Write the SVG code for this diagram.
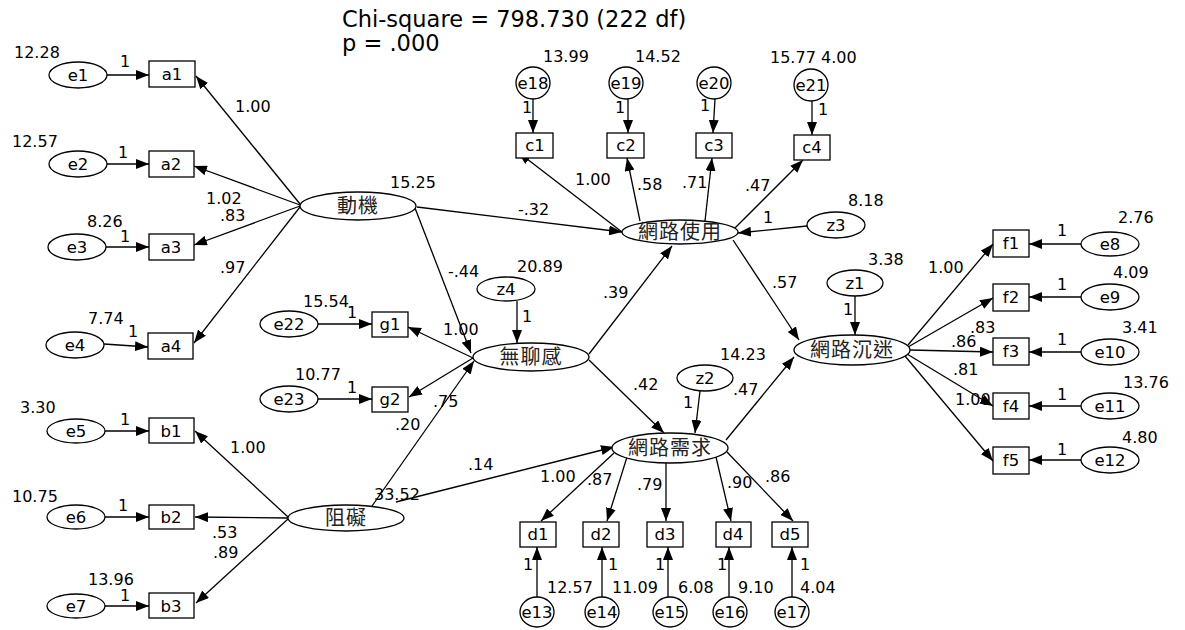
<svg xmlns="http://www.w3.org/2000/svg" width="1185" height="630" viewBox="0 0 1185 630">
<defs>
<marker id="ah" viewBox="0 0 13 10" refX="13" refY="5" markerWidth="13" markerHeight="10" markerUnits="userSpaceOnUse" orient="auto"><path d="M0,0 L13,5 L0,10 z" fill="#000"/></marker>
<style>
.sh{fill:#fff;stroke:#000;stroke-width:1.3}
.lb{font-family:"DejaVu Sans","Liberation Sans",sans-serif;font-size:16.5px;fill:#000;text-anchor:middle}
.n{font-family:"DejaVu Sans","Liberation Sans",sans-serif;font-size:16px;fill:#000}
.cj{font-family:"Noto Sans CJK TC","Noto Sans CJK SC",sans-serif;font-size:20px;letter-spacing:1px;fill:#222;text-anchor:middle}
.t{font-family:"DejaVu Sans","Liberation Sans",sans-serif;font-size:22.5px;fill:#000}
#conn line{stroke:#000;stroke-width:1.3;marker-end:url(#ah)}
</style>
</defs>
<rect width="1185" height="630" fill="#fff"/>
<text class="t" x="342" y="27">Chi-square = 798.730 (222 df)</text>
<text class="t" x="342" y="51">p = .000</text>

<g id="conn">
<line x1="107" y1="75" x2="149" y2="75"/>
<line x1="107" y1="164" x2="149" y2="164"/>
<line x1="106" y1="247" x2="149" y2="247"/>
<line x1="104" y1="344" x2="148" y2="347"/>
<line x1="105" y1="431" x2="149" y2="431"/>
<line x1="105" y1="517" x2="149" y2="517"/>
<line x1="105" y1="606" x2="149" y2="606"/>
<line x1="300" y1="204" x2="196" y2="76"/>
<line x1="300" y1="205" x2="194" y2="166"/>
<line x1="300" y1="206" x2="194" y2="245"/>
<line x1="300" y1="207" x2="194" y2="343"/>
<line x1="288" y1="517" x2="195" y2="431"/>
<line x1="288" y1="518" x2="195" y2="517"/>
<line x1="288" y1="519" x2="196" y2="603"/>
<line x1="318" y1="324" x2="372" y2="324"/>
<line x1="318" y1="399" x2="372" y2="399"/>
<line x1="473" y1="358" x2="408" y2="327"/>
<line x1="473" y1="358" x2="409" y2="397"/>
<line x1="517" y1="301" x2="517" y2="343"/>
<line x1="415" y1="208" x2="471" y2="353"/>
<line x1="417" y1="207" x2="622" y2="232"/>
<line x1="372" y1="506" x2="474" y2="361"/>
<line x1="396" y1="502" x2="614" y2="447"/>
<line x1="589" y1="354" x2="672" y2="246"/>
<line x1="589" y1="360" x2="664" y2="433"/>
<line x1="700" y1="391" x2="695" y2="433"/>
<line x1="726" y1="440" x2="794" y2="357"/>
<line x1="733" y1="240" x2="799" y2="340"/>
<line x1="807" y1="226" x2="738" y2="233"/>
<line x1="855" y1="296" x2="855" y2="335"/>
<line x1="622" y1="232" x2="518" y2="152"/>
<line x1="640" y1="221" x2="627" y2="158"/>
<line x1="705" y1="221" x2="712" y2="158"/>
<line x1="735" y1="228" x2="803" y2="160"/>
<line x1="533" y1="99" x2="533" y2="133"/>
<line x1="628" y1="99" x2="628" y2="133"/>
<line x1="715" y1="99" x2="713" y2="133"/>
<line x1="812" y1="101" x2="812" y2="135"/>
<line x1="614" y1="453" x2="541" y2="521"/>
<line x1="627" y1="457" x2="607" y2="521"/>
<line x1="666" y1="463" x2="666" y2="521"/>
<line x1="716" y1="457" x2="731" y2="521"/>
<line x1="727" y1="452" x2="793" y2="521"/>
<line x1="537" y1="597" x2="537" y2="547"/>
<line x1="602" y1="597" x2="602" y2="547"/>
<line x1="668" y1="597" x2="668" y2="547"/>
<line x1="729" y1="597" x2="729" y2="547"/>
<line x1="792" y1="597" x2="792" y2="547"/>
<line x1="908" y1="345" x2="993" y2="244"/>
<line x1="908" y1="347" x2="993" y2="298"/>
<line x1="910" y1="350" x2="993" y2="352"/>
<line x1="907" y1="354" x2="993" y2="406"/>
<line x1="905" y1="356" x2="993" y2="461"/>
<line x1="1081" y1="244" x2="1029" y2="244"/>
<line x1="1081" y1="297" x2="1029" y2="297"/>
<line x1="1081" y1="352" x2="1029" y2="352"/>
<line x1="1081" y1="406" x2="1029" y2="406"/>
<line x1="1081" y1="460" x2="1029" y2="460"/>
</g>

<g id="e1"><ellipse class="sh" cx="78" cy="75" rx="29" ry="13"/><text class="lb" x="78" y="81">e1</text></g>
<g id="e2"><ellipse class="sh" cx="78" cy="164" rx="29" ry="13"/><text class="lb" x="78" y="170">e2</text></g>
<g id="e3"><ellipse class="sh" cx="77" cy="247" rx="29" ry="13"/><text class="lb" x="77" y="253">e3</text></g>
<g id="e4"><ellipse class="sh" cx="75" cy="345" rx="29" ry="13"/><text class="lb" x="75" y="351">e4</text></g>
<g id="e5"><ellipse class="sh" cx="76" cy="431" rx="29" ry="12"/><text class="lb" x="76" y="437">e5</text></g>
<g id="e6"><ellipse class="sh" cx="76" cy="517" rx="29" ry="12"/><text class="lb" x="76" y="523">e6</text></g>
<g id="e7"><ellipse class="sh" cx="76" cy="606" rx="29" ry="12"/><text class="lb" x="76" y="612">e7</text></g>
<g id="e22"><ellipse class="sh" cx="289" cy="324" rx="29" ry="13"/><text class="lb" x="289" y="330">e22</text></g>
<g id="e23"><ellipse class="sh" cx="289" cy="399" rx="29" ry="13"/><text class="lb" x="289" y="405">e23</text></g>

<g id="a1"><rect class="sh" x="149" y="61" width="46" height="26"/><text class="lb" x="172" y="80">a1</text></g>
<g id="a2"><rect class="sh" x="149" y="151" width="45" height="26"/><text class="lb" x="171" y="170">a2</text></g>
<g id="a3"><rect class="sh" x="149" y="234" width="45" height="26"/><text class="lb" x="171" y="253">a3</text></g>
<g id="a4"><rect class="sh" x="148" y="333" width="45" height="26"/><text class="lb" x="171" y="352">a4</text></g>
<g id="b1"><rect class="sh" x="149" y="418" width="45" height="25"/><text class="lb" x="171" y="437">b1</text></g>
<g id="b2"><rect class="sh" x="149" y="505" width="45" height="24"/><text class="lb" x="171" y="523">b2</text></g>
<g id="b3"><rect class="sh" x="149" y="593" width="45" height="25"/><text class="lb" x="171" y="612">b3</text></g>
<g id="g1"><rect class="sh" x="372" y="312" width="36" height="25"/><text class="lb" x="390" y="330">g1</text></g>
<g id="g2"><rect class="sh" x="372" y="387" width="36" height="25"/><text class="lb" x="390" y="405">g2</text></g>

<g id="motive"><ellipse class="sh" cx="358" cy="206" rx="58" ry="14"/><text class="cj" x="358" y="213">動機</text></g>
<g id="barrier"><ellipse class="sh" cx="346" cy="518" rx="58" ry="13"/><text class="cj" x="346" y="525">阻礙</text></g>
<g id="boredom"><ellipse class="sh" cx="531" cy="357" rx="58" ry="14"/><text class="cj" x="531" y="364">無聊感</text></g>
<g id="netuse"><ellipse class="sh" cx="680" cy="232" rx="58" ry="12"/><text class="cj" x="680" y="239">網路使用</text></g>
<g id="netneed"><ellipse class="sh" cx="670" cy="448" rx="58" ry="15"/><text class="cj" x="670" y="455">網路需求</text></g>
<g id="netaddict"><ellipse class="sh" cx="852" cy="350" rx="58" ry="15"/><text class="cj" x="852" y="357">網路沉迷</text></g>

<g id="z4"><ellipse class="sh" cx="506" cy="289" rx="29" ry="12"/><text class="lb" x="506" y="295">z4</text></g>
<g id="z2"><ellipse class="sh" cx="705" cy="378" rx="28" ry="13"/><text class="lb" x="705" y="384">z2</text></g>
<g id="z3"><ellipse class="sh" cx="836" cy="225" rx="29" ry="13"/><text class="lb" x="836" y="231">z3</text></g>
<g id="z1"><ellipse class="sh" cx="855" cy="283" rx="28" ry="13"/><text class="lb" x="855" y="289">z1</text></g>

<g id="c1"><rect class="sh" x="516" y="133" width="37" height="25"/><text class="lb" x="535" y="151">c1</text></g>
<g id="c2"><rect class="sh" x="607" y="133" width="37" height="25"/><text class="lb" x="626" y="151">c2</text></g>
<g id="c3"><rect class="sh" x="696" y="133" width="36" height="25"/><text class="lb" x="714" y="151">c3</text></g>
<g id="c4"><rect class="sh" x="794" y="135" width="36" height="25"/><text class="lb" x="812" y="153">c4</text></g>
<g id="e18"><ellipse class="sh" cx="533" cy="83" rx="17" ry="16"/><text class="lb" x="533" y="89">e18</text></g>
<g id="e19"><ellipse class="sh" cx="626" cy="83" rx="17" ry="16"/><text class="lb" x="626" y="89">e19</text></g>
<g id="e20"><ellipse class="sh" cx="714" cy="83" rx="17" ry="16"/><text class="lb" x="714" y="89">e20</text></g>
<g id="e21"><ellipse class="sh" cx="811" cy="85" rx="17" ry="16"/><text class="lb" x="811" y="91">e21</text></g>

<g id="d1"><rect class="sh" x="520" y="522" width="36" height="25"/><text class="lb" x="538" y="540">d1</text></g>
<g id="d2"><rect class="sh" x="583" y="522" width="36" height="25"/><text class="lb" x="601" y="540">d2</text></g>
<g id="d3"><rect class="sh" x="647" y="522" width="36" height="25"/><text class="lb" x="665" y="540">d3</text></g>
<g id="d4"><rect class="sh" x="716" y="522" width="35" height="25"/><text class="lb" x="733" y="540">d4</text></g>
<g id="d5"><rect class="sh" x="772" y="522" width="36" height="25"/><text class="lb" x="790" y="540">d5</text></g>
<g id="e13"><ellipse class="sh" cx="537" cy="612" rx="17" ry="15"/><text class="lb" x="537" y="618">e13</text></g>
<g id="e14"><ellipse class="sh" cx="602" cy="612" rx="17" ry="15"/><text class="lb" x="602" y="618">e14</text></g>
<g id="e15"><ellipse class="sh" cx="670" cy="612" rx="17" ry="15"/><text class="lb" x="670" y="618">e15</text></g>
<g id="e16"><ellipse class="sh" cx="730" cy="612" rx="17" ry="15"/><text class="lb" x="730" y="618">e16</text></g>
<g id="e17"><ellipse class="sh" cx="792" cy="612" rx="17" ry="15"/><text class="lb" x="792" y="618">e17</text></g>

<g id="f1"><rect class="sh" x="993" y="230" width="36" height="27"/><text class="lb" x="1011" y="249">f1</text></g>
<g id="f2"><rect class="sh" x="993" y="284" width="36" height="27"/><text class="lb" x="1011" y="303">f2</text></g>
<g id="f3"><rect class="sh" x="993" y="338" width="36" height="27"/><text class="lb" x="1011" y="357">f3</text></g>
<g id="f4"><rect class="sh" x="993" y="393" width="36" height="26"/><text class="lb" x="1011" y="412">f4</text></g>
<g id="f5"><rect class="sh" x="993" y="447" width="36" height="27"/><text class="lb" x="1011" y="466">f5</text></g>
<g id="e8"><ellipse class="sh" cx="1110" cy="244" rx="29" ry="12"/><text class="lb" x="1110" y="250">e8</text></g>
<g id="e9"><ellipse class="sh" cx="1110" cy="297" rx="29" ry="13"/><text class="lb" x="1110" y="303">e9</text></g>
<g id="e10"><ellipse class="sh" cx="1110" cy="352" rx="29" ry="13"/><text class="lb" x="1110" y="358">e10</text></g>
<g id="e11"><ellipse class="sh" cx="1110" cy="406" rx="29" ry="13"/><text class="lb" x="1110" y="412">e11</text></g>
<g id="e12"><ellipse class="sh" cx="1110" cy="460" rx="29" ry="13"/><text class="lb" x="1110" y="466">e12</text></g>

<g id="labels">
<text class="n" x="14" y="58">12.28</text>
<text class="n" x="120" y="67">1</text>
<text class="n" x="235" y="112">1.00</text>
<text class="n" x="12" y="147">12.57</text>
<text class="n" x="118" y="158">1</text>
<text class="n" x="206" y="204">1.02</text>
<text class="n" x="220" y="221">.83</text>
<text class="n" x="87" y="227">8.26</text>
<text class="n" x="120" y="242">1</text>
<text class="n" x="220" y="273">.97</text>
<text class="n" x="88" y="324">7.74</text>
<text class="n" x="128" y="337">1</text>
<text class="n" x="303" y="307">15.54</text>
<text class="n" x="347" y="318">1</text>
<text class="n" x="295" y="380">10.77</text>
<text class="n" x="347" y="393">1</text>
<text class="n" x="20" y="413">3.30</text>
<text class="n" x="120" y="425">1</text>
<text class="n" x="230" y="453">1.00</text>
<text class="n" x="12" y="502">10.75</text>
<text class="n" x="118" y="511">1</text>
<text class="n" x="212" y="538">.53</text>
<text class="n" x="213" y="558">.89</text>
<text class="n" x="88" y="585">13.96</text>
<text class="n" x="120" y="601">1</text>
<text class="n" x="390" y="188">15.25</text>
<text class="n" x="518" y="215">-.32</text>
<text class="n" x="543" y="62">13.99</text>
<text class="n" x="635" y="62">14.52</text>
<text class="n" x="770" y="63">15.77</text>
<text class="n" x="821" y="63">4.00</text>
<text class="n" x="522" y="113">1</text>
<text class="n" x="615" y="113">1</text>
<text class="n" x="700" y="111">1</text>
<text class="n" x="818" y="115">1</text>
<text class="n" x="575" y="185">1.00</text>
<text class="n" x="637" y="190">.58</text>
<text class="n" x="682" y="188">.71</text>
<text class="n" x="745" y="191">.47</text>
<text class="n" x="848" y="206">8.18</text>
<text class="n" x="763" y="223">1</text>
<text class="n" x="1118" y="223">2.76</text>
<text class="n" x="1057" y="236">1</text>
<text class="n" x="868" y="265">3.38</text>
<text class="n" x="928" y="273">1.00</text>
<text class="n" x="772" y="288">.57</text>
<text class="n" x="843" y="315">1</text>
<text class="n" x="1113" y="278">4.09</text>
<text class="n" x="1057" y="290">1</text>
<text class="n" x="970" y="333">.83</text>
<text class="n" x="951" y="347">.86</text>
<text class="n" x="1122" y="333">3.41</text>
<text class="n" x="1057" y="345">1</text>
<text class="n" x="953" y="375">.81</text>
<text class="n" x="1123" y="388">13.76</text>
<text class="n" x="1057" y="400">1</text>
<text class="n" x="955" y="405">1.00</text>
<text class="n" x="1122" y="443">4.80</text>
<text class="n" x="1057" y="455">1</text>
<text class="n" x="720" y="360">14.23</text>
<text class="n" x="733" y="395">.47</text>
<text class="n" x="683" y="408">1</text>
<text class="n" x="448" y="277">-.44</text>
<text class="n" x="517" y="272">20.89</text>
<text class="n" x="522" y="322">1</text>
<text class="n" x="603" y="298">.39</text>
<text class="n" x="443" y="335">1.00</text>
<text class="n" x="633" y="390">.42</text>
<text class="n" x="433" y="407">.75</text>
<text class="n" x="395" y="430">.20</text>
<text class="n" x="374" y="500">33.52</text>
<text class="n" x="468" y="470">.14</text>
<text class="n" x="540" y="482">1.00</text>
<text class="n" x="587" y="485">.87</text>
<text class="n" x="637" y="490">.79</text>
<text class="n" x="727" y="488">.90</text>
<text class="n" x="765" y="482">.86</text>
<text class="n" x="523" y="570">1</text>
<text class="n" x="547" y="593">12.57</text>
<text class="n" x="608" y="570">1</text>
<text class="n" x="612" y="593">11.09</text>
<text class="n" x="655" y="570">1</text>
<text class="n" x="678" y="593">6.08</text>
<text class="n" x="717" y="570">1</text>
<text class="n" x="738" y="593">9.10</text>
<text class="n" x="800" y="570">1</text>
<text class="n" x="800" y="593">4.04</text>
</g>
</svg>
